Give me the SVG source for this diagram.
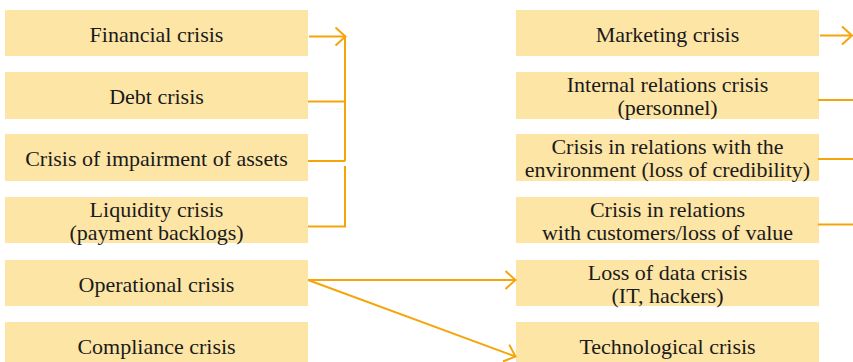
<svg xmlns="http://www.w3.org/2000/svg" width="853" height="362" viewBox="0 0 853 362">
<style>
.box{fill:#FDE5A6}
.t{font-family:"Liberation Serif","Times New Roman",serif;font-size:22px;fill:#1a1a1a;text-anchor:middle}
.ln{stroke:#F5A50A;stroke-width:2;fill:none}
</style>
<defs>
<marker id="ah" markerUnits="userSpaceOnUse" markerWidth="24" markerHeight="24" viewBox="-12 -12 24 24" refX="0" refY="0" orient="auto">
<path d="M-10,-9 L0,0 L-10,9" fill="none" stroke="#F5A50A" stroke-width="2"/>
</marker>
</defs>
<rect width="853" height="362" fill="#fff"/>
<g id="financial"><rect class="box" x="5" y="10" width="303" height="46"/><text class="t" x="156.5" y="42">Financial crisis</text></g>
<g id="debt"><rect class="box" x="5" y="72" width="303" height="47"/><text class="t" x="156.5" y="104">Debt crisis</text></g>
<g id="impairment"><rect class="box" x="5" y="134" width="303" height="47"/><text class="t" x="156.5" y="166">Crisis of impairment of assets</text></g>
<g id="liquidity"><rect class="box" x="5" y="197" width="303" height="46"/><text class="t" x="156.5" y="217">Liquidity crisis</text><text class="t" x="156.5" y="240">(payment backlogs)</text></g>
<g id="operational"><rect class="box" x="5" y="260" width="303" height="46"/><text class="t" x="156.5" y="292">Operational crisis</text></g>
<g id="compliance"><rect class="box" x="5" y="322" width="303" height="40"/><text class="t" x="156.5" y="354">Compliance crisis</text></g>
<g id="marketing"><rect class="box" x="516" y="10" width="303" height="46"/><text class="t" x="667.5" y="42">Marketing crisis</text></g>
<g id="internal"><rect class="box" x="516" y="72" width="303" height="47"/><text class="t" x="667.5" y="92">Internal relations crisis</text><text class="t" x="667.5" y="115">(personnel)</text></g>
<g id="environment"><rect class="box" x="516" y="134" width="303" height="47"/><text class="t" x="667.5" y="154">Crisis in relations with the</text><text class="t" x="667.5" y="177">environment (loss of credibility)</text></g>
<g id="customers"><rect class="box" x="516" y="197" width="303" height="46"/><text class="t" x="667.5" y="217">Crisis in relations</text><text class="t" x="667.5" y="240">with customers/loss of value</text></g>
<g id="data"><rect class="box" x="516" y="260" width="303" height="46"/><text class="t" x="667.5" y="280">Loss of data crisis</text><text class="t" x="667.5" y="303">(IT, hackers)</text></g>
<g id="technological"><rect class="box" x="516" y="322" width="303" height="40"/><text class="t" x="667.5" y="354">Technological crisis</text></g>
<g id="connectors">
<path class="ln" d="M309,36.5 H345.5" marker-end="url(#ah)"/>
<path class="ln" d="M345,36 V161 M308,101.5 H345 M308,161 H345 M345,166 V226.5 H308"/>
<path class="ln" d="M820,35.5 H852" marker-end="url(#ah)"/>
<path class="ln" d="M818,100 H853 M818,159 H853 M818,224.5 H853"/>
<path class="ln" d="M308,280 H515.5" marker-end="url(#ah)"/>
<path class="ln" d="M308,280 L515.5,356.5" marker-end="url(#ah)"/>
</g>
</svg>
